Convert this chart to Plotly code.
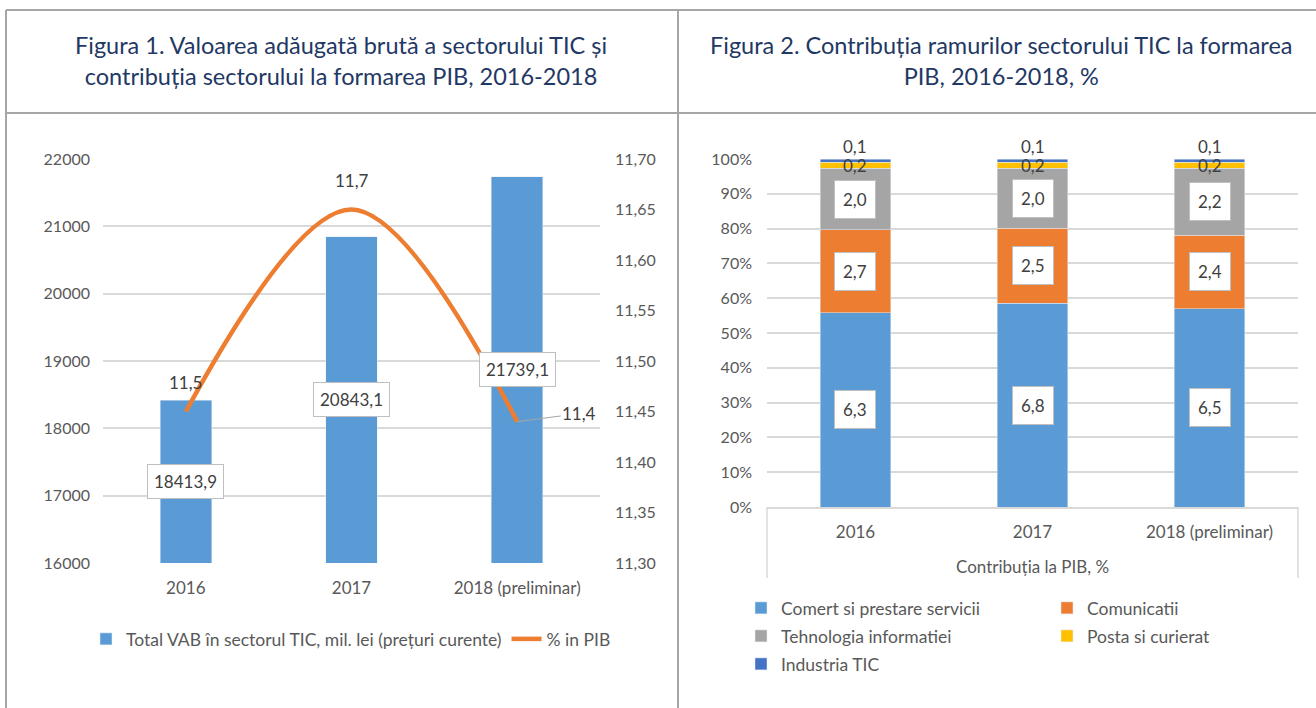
import plotly.graph_objects as go

W, H = 1316, 708

# ---------------- data ----------------
years = ["2016", "2017", "2018 (preliminar)"]
vab_values = [18413.9, 20843.1, 21739.1]
vab_labels = ["18413,9", "20843,1", "21739,1"]
pib_share = [11.45, 11.65, 11.44]
pib_labels = ["11,5", "11,7", "11,4"]

branches = ["Comert si prestare servicii", "Comunicatii", "Tehnologia informatiei",
            "Posta si curierat", "Industria TIC"]
comert = [6.3, 6.8, 6.5]
comunicatii = [2.7, 2.5, 2.4]
tehnologia = [2.0, 2.0, 2.2]
posta = [0.2, 0.2, 0.2]
industria = [0.1, 0.1, 0.1]
branch_values = [comert, comunicatii, tehnologia, posta, industria]
branch_colors = ["#5B9BD5", "#ED7D31", "#A5A5A5", "#FFC000", "#4472C4"]

left_ticks = [16000, 17000, 18000, 19000, 20000, 21000, 22000]
right_ticks = [11.30, 11.35, 11.40, 11.45, 11.50, 11.55, 11.60, 11.65, 11.70]
pct_ticks = [0, 10, 20, 30, 40, 50, 60, 70, 80, 90, 100]

FONT = "Lato"
TXT = "#595959"
LBL = "#404040"
GRID = "#D9D9D9"
BORDER = "#A6A6A6"
TITLE_C = "#1F3864"


def px(x):
    return x / W


def py(y):
    return 1 - y / H


fig = go.Figure()

# ---------------- left chart ----------------
fig.add_trace(go.Bar(
    x=years, y=vab_values, width=0.31, marker_color="#5B9BD5",
    name="Total VAB în sectorul TIC, mil. lei (prețuri curente)",
    xaxis="x", yaxis="y", legend="legend", hoverinfo="skip"))
fig.add_trace(go.Scatter(
    x=years, y=pib_share, mode="lines",
    line=dict(color="#ED7D31", width=4.5, shape="spline", smoothing=1.0),
    name="% in PIB", xaxis="x", yaxis="y2", legend="legend", hoverinfo="skip"))

annotations = []
ymin_left = left_ticks[0]
for i, (v, lab) in enumerate(zip(vab_values, vab_labels)):
    annotations.append(dict(x=i, y=(v + ymin_left) / 2, xref="x", yref="y", text=lab, showarrow=False,
                            xanchor="center", yanchor="middle",
                            bgcolor="white", bordercolor="#BFBFBF", borderwidth=1, borderpad=6,
                            font=dict(family=FONT, size=17, color=LBL)))
for i, (v, lab) in enumerate(zip(pib_share, pib_labels)):
    if i < 2:
        annotations.append(dict(x=i, y=v, xref="x", yref="y2", text=lab, showarrow=False,
                                xanchor="center", yanchor="bottom", yshift=17,
                                font=dict(family=FONT, size=17, color=LBL)))
    else:
        annotations.append(dict(x=i, y=v, xref="x", yref="y2", text=lab, showarrow=True,
                                arrowhead=0, arrowwidth=1, arrowcolor="#A6A6A6", ax=62, ay=-8,
                                standoff=0, font=dict(family=FONT, size=17, color=LBL)))

# ---------------- right chart ----------------
totals = [sum(v[i] for v in branch_values) for i in range(len(years))]
legend_ids = ["legend2", "legend3", "legend4", "legend5", "legend6"]
for name, vals, col, lg in zip(branches, branch_values, branch_colors, legend_ids):
    pct = [vals[i] / totals[i] * 100 for i in range(len(years))]
    fig.add_trace(go.Bar(x=years, y=pct, width=0.4, name=name, marker_color=col, xaxis="x3", yaxis="y3",
                         legend=lg, hoverinfo="skip"))

cum = [0.0] * len(years)
for k, (name, vals) in enumerate(zip(branches, branch_values)):
    for i in range(len(years)):
        share = vals[i] / totals[i] * 100
        center = cum[i] + share / 2
        lab = f"{vals[i]:.1f}".replace(".", ",")
        if k < 3:
            annotations.append(dict(x=i, y=center, xref="x3", yref="y3", text=lab, showarrow=False,
                                    xanchor="center", yanchor="middle",
                                    bgcolor="white", bordercolor="#BFBFBF", borderwidth=1, borderpad=8,
                                    font=dict(family=FONT, size=17, color=LBL)))
        elif k == 3:
            annotations.append(dict(x=i, y=center, xref="x3", yref="y3", text=lab, showarrow=False,
                                    xanchor="center", yanchor="middle",
                                    font=dict(family=FONT, size=17, color=LBL)))
        else:
            annotations.append(dict(x=i, y=100, xref="x3", yref="y3", text=lab, showarrow=False,
                                    xanchor="center", yanchor="bottom", yshift=0,
                                    font=dict(family=FONT, size=17, color=LBL)))
        cum[i] += share

annotations.append(dict(x=px(1032), y=py(566), xref="paper", yref="paper", text="Contribuția la PIB, %",
                        xanchor="center", yanchor="middle",
                        showarrow=False, font=dict(family=FONT, size=17, color=TXT)))

# ---------------- titles ----------------
annotations.append(dict(x=px(341), y=py(61), xref="paper", yref="paper", xanchor="center", yanchor="middle",
                        text="Figura 1. Valoarea adăugată brută a sectorului TIC și<br>contribuția sectorului la formarea PIB, 2016-2018",
                        showarrow=False, font=dict(family=FONT, size=23.5, color=TITLE_C)))
annotations.append(dict(x=px(1001), y=py(61), xref="paper", yref="paper", xanchor="center", yanchor="middle",
                        text="Figura 2. Contribuția ramurilor sectorului TIC la formarea<br>PIB, 2016-2018, %",
                        showarrow=False, font=dict(family=FONT, size=23.5, color=TITLE_C)))

# ---------------- frame shapes ----------------
shapes = []
line = dict(color=BORDER, width=2)
shapes.append(dict(type="line", xref="paper", yref="paper", x0=px(6), x1=px(1316), y0=py(10), y1=py(10), line=line))
shapes.append(dict(type="line", xref="paper", yref="paper", x0=px(6), x1=px(1316), y0=py(113), y1=py(113), line=line))
shapes.append(dict(type="line", xref="paper", yref="paper", x0=px(6), x1=px(6), y0=py(10), y1=py(708), line=line))
shapes.append(dict(type="line", xref="paper", yref="paper", x0=px(678), x1=px(678), y0=py(10), y1=py(708), line=line))
shapes.append(dict(type="line", xref="paper", yref="paper", x0=px(767), x1=px(767), y0=py(507), y1=py(578),
                   line=dict(color=GRID, width=1.5)))
shapes.append(dict(type="line", xref="paper", yref="paper", x0=px(1298), x1=px(1298), y0=py(507), y1=py(578),
                   line=dict(color=GRID, width=1.5)))

tickfont = dict(family=FONT, size=16, color=TXT)
xtickfont = dict(family=FONT, size=17, color=TXT)
legfont = dict(family=FONT, size=17.5, color=TXT)

legend_pos = {"legend2": (741, 590), "legend3": (1047, 590), "legend4": (741, 618),
              "legend5": (1047, 618), "legend6": (741, 646)}
legend_layout = {lg: dict(x=px(xx), y=py(yy), xanchor="left", yanchor="top", font=legfont,
                          bgcolor="rgba(0,0,0,0)")
                 for lg, (xx, yy) in legend_pos.items()}

fig.update_layout(
    width=W, height=H, margin=dict(l=0, r=0, t=0, b=0, autoexpand=False),
    paper_bgcolor="white", plot_bgcolor="white",
    separators=",.",
    barmode="stack",
    annotations=annotations, shapes=shapes,
    xaxis=dict(type="category", domain=[px(103), px(600)], anchor="y", range=[-0.5, 2.5],
               tickfont=xtickfont, showgrid=False, showline=False, ticklabelstandoff=13),
    yaxis=dict(domain=[py(563), py(159)], range=[16000, 22000], tickvals=left_ticks, tickformat="d",
               tickfont=tickfont, gridcolor=GRID, gridwidth=1.5, zeroline=False, ticklabelstandoff=12),
    yaxis2=dict(overlaying="y", side="right", anchor="x", range=[11.30, 11.70], tickvals=right_ticks,
                tickformat=".2f", tickfont=tickfont, showgrid=False, zeroline=False, ticklabelstandoff=14),
    xaxis3=dict(type="category", domain=[px(767), px(1298)], anchor="y3", range=[-0.5, 2.5],
                tickfont=xtickfont, showline=True, linecolor=GRID, linewidth=1.5, ticklabelstandoff=9),
    yaxis3=dict(domain=[py(507), py(159)], anchor="x3", range=[0, 100], tickmode="array", tickvals=pct_ticks,
                ticktext=[f"{t}%" for t in pct_ticks],
                tickfont=tickfont, gridcolor=GRID, gridwidth=1.5, zeroline=False, ticklabelstandoff=14),
    legend=dict(orientation="h", x=px(86), y=py(621), xanchor="left", yanchor="top",
                font=legfont, traceorder="normal"),
    **legend_layout,
)

fig.write_html("out.html", post_script="document.body.style.margin='0';",
               config={"displayModeBar": False})
